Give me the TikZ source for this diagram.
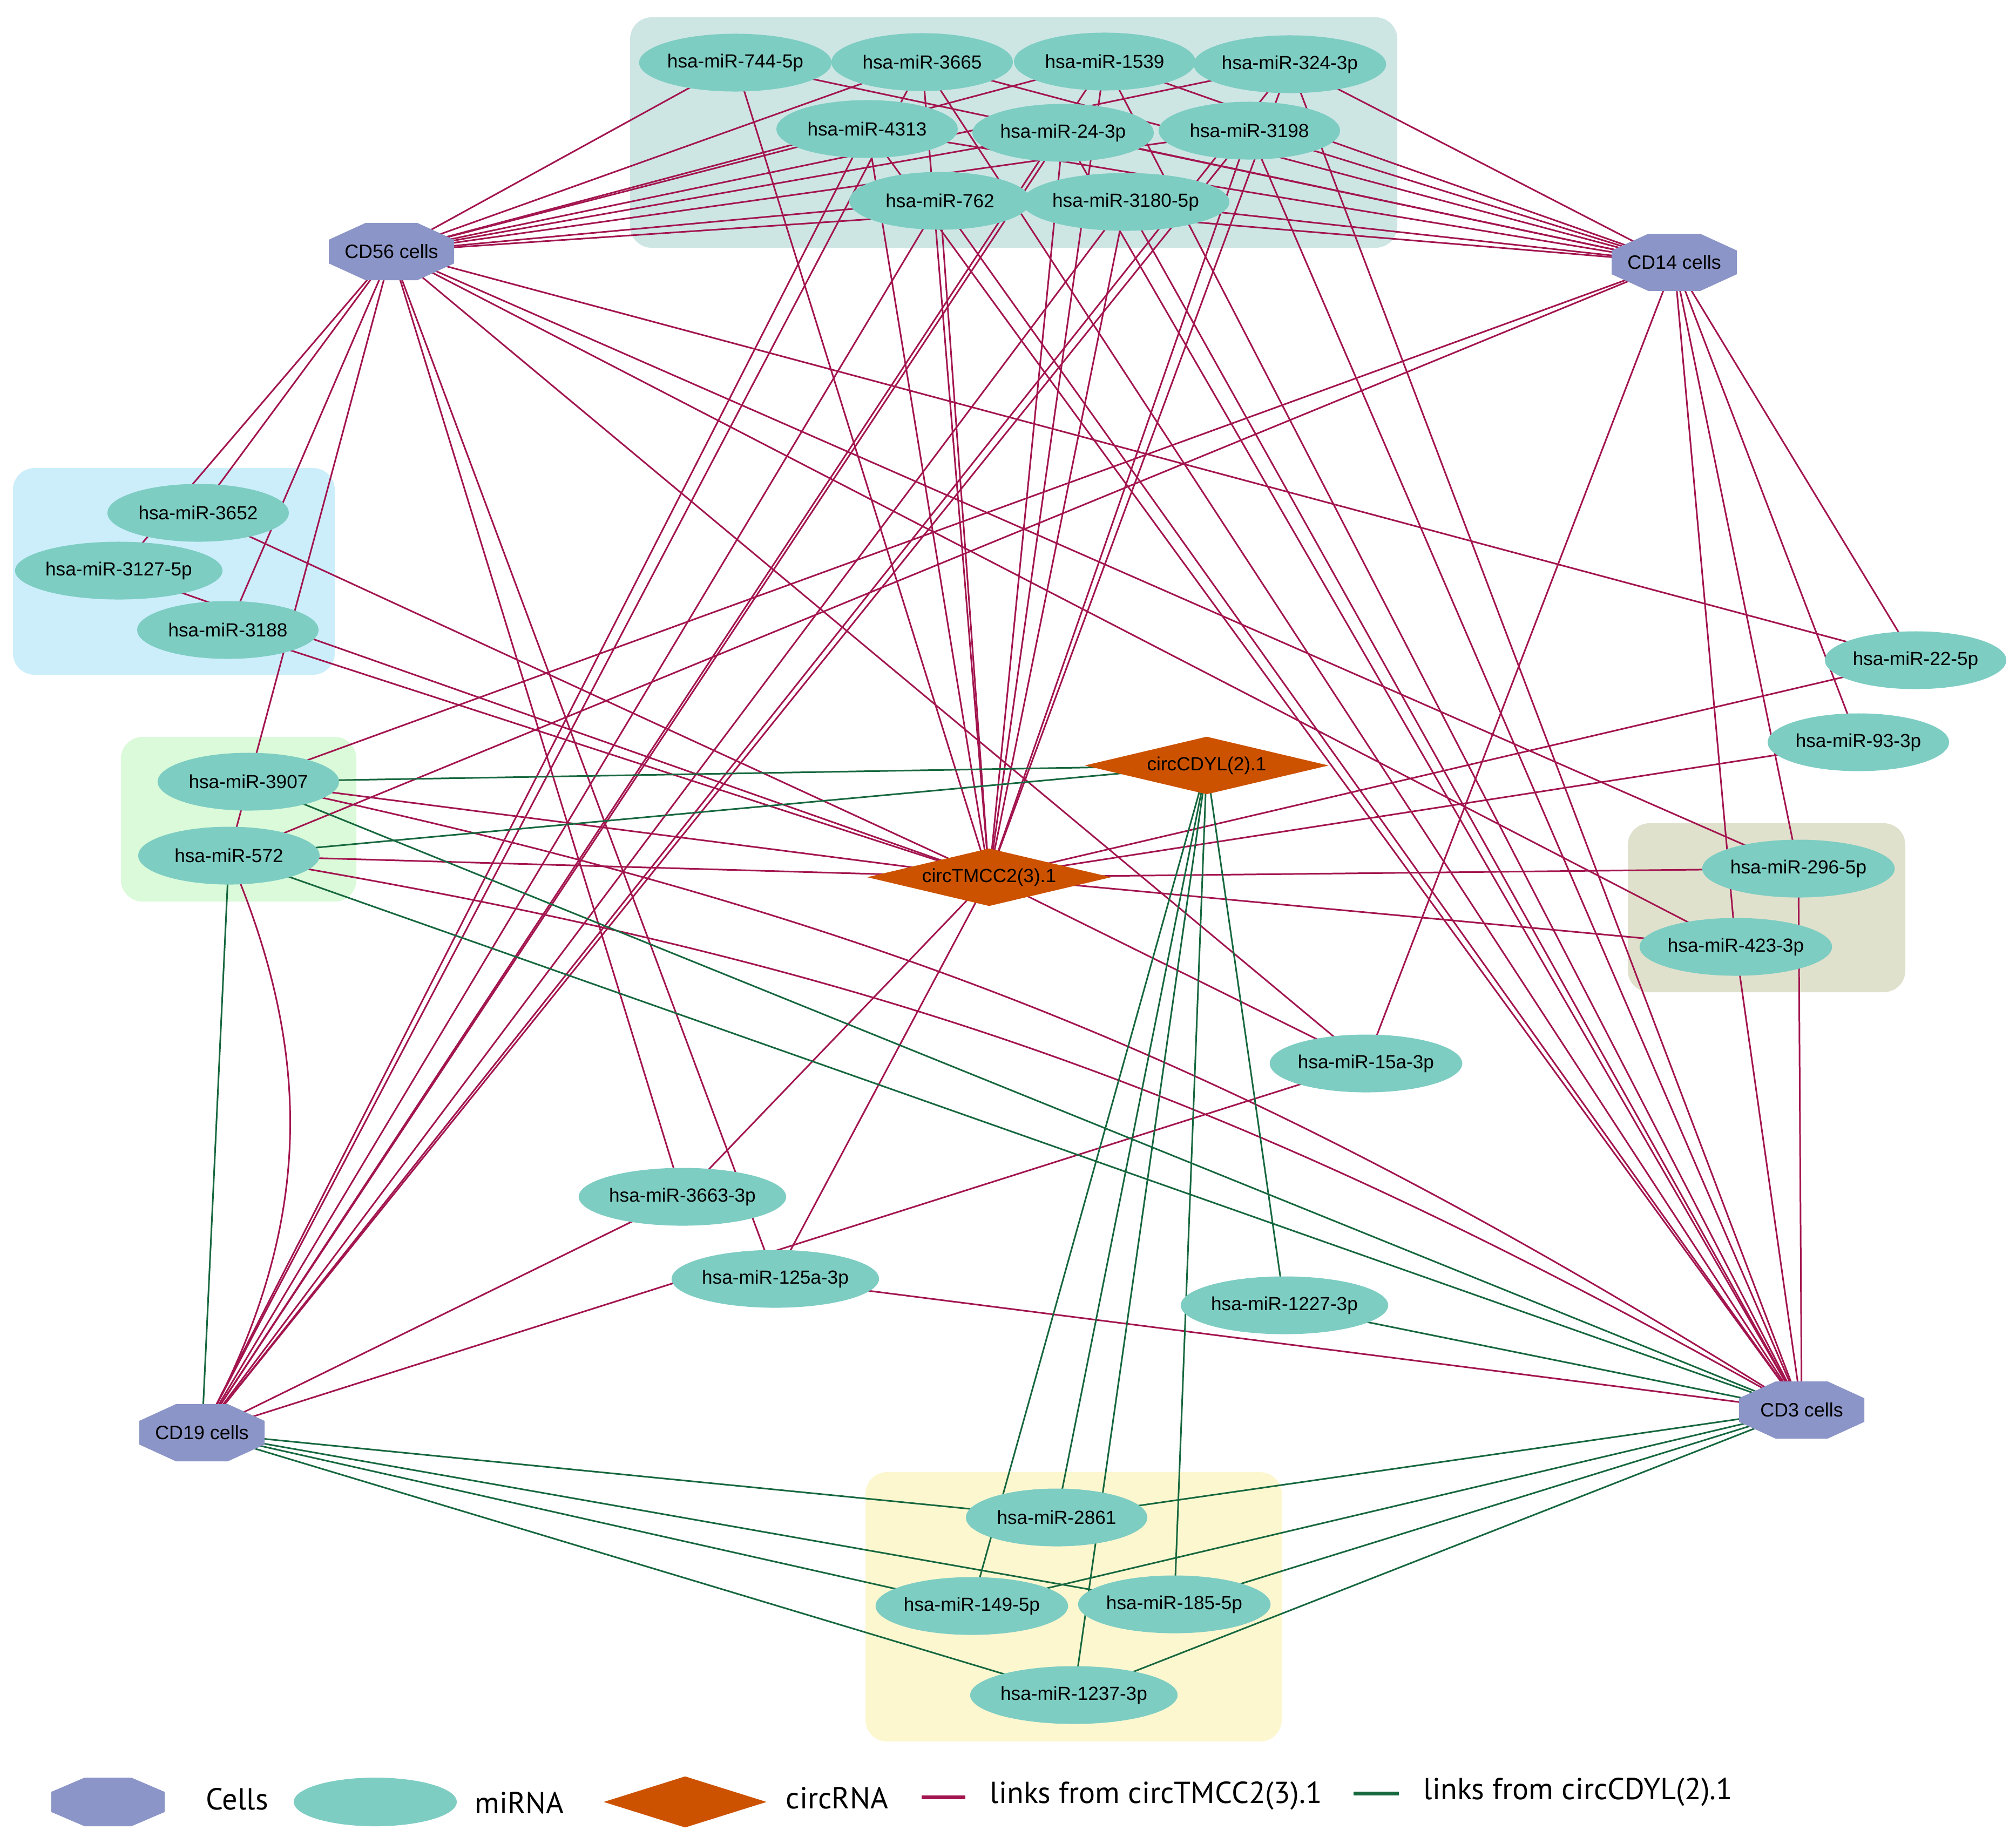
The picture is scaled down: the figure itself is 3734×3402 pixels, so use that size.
\documentclass[tikz,border=0pt]{standalone}
\usepackage{fontspec}
\setmainfont{Liberation Sans}
\newfontfamily\legendfont{PT Sans}
\usepackage{xcolor}
\definecolor{mirnaFill}{HTML}{7ECDC3}
\definecolor{cellFill}{HTML}{8C95C7}
\definecolor{circFill}{HTML}{CC5200}
\definecolor{tmccLink}{HTML}{A3154F}
\definecolor{cdylLink}{HTML}{17683F}
\definecolor{boxTeal}{HTML}{CDE6E4}
\definecolor{boxBlue}{HTML}{CCEEFB}
\definecolor{boxGreen}{HTML}{DAFAD9}
\definecolor{boxOlive}{HTML}{E0E1CC}
\definecolor{boxYellow}{HTML}{FDF7D0}
\usetikzlibrary{shapes.geometric}
\pgfdeclarelayer{boxes}
\pgfdeclarelayer{links}
\pgfsetlayers{boxes,links,main}
\tikzset{
    mirna/.style={
        fill=mirnaFill,
        ellipse,
        minimum width=3.36cm,
        minimum height=1.07cm,
        inner sep=0pt,
        font=\fontsize{10}{12}\selectfont
    },
    cell/.style={
        rectangle,
        minimum width=2.32cm,
        minimum height=1.06cm,
        inner sep=0pt,
        font=\fontsize{10.2}{12}\selectfont
    },
    circrna/.style={
        fill=circFill,
        diamond,
        aspect=4.2,
        minimum width=4.52cm,
        minimum height=1.07cm,
        inner sep=0pt,
        font=\fontsize{10}{12}\selectfont
    },
    tmcc/.style={
        line width=0.85pt,
        color=tmccLink
    },
    cdyl/.style={
        line width=0.85pt,
        color=cdylLink
    },
    group/.style={
        rounded corners=0.4cm
    },
    legendtext/.style={
        anchor=west,
        inner sep=0pt,
        font=\legendfont\fontsize{16}{19}\selectfont
    }
}
% flat octagon: centre, half width, half height
\newcommand{\octfill}[3]{%
    \fill[cellFill] (#1) ++({-0.414*#2},{-#3}) -- ++({0.828*#2},0)
        -- ++({0.586*#2},{0.586*#3}) -- ++(0,{0.828*#3})
        -- ++({-0.586*#2},{0.586*#3}) -- ++({-0.828*#2},0)
        -- ++({-0.586*#2},{-0.586*#3}) -- ++(0,{-0.828*#3}) -- cycle;
}
% cell node: name, position, text
\newcommand{\cellnode}[3]{%
    \octfill{#2}{116}{53}
    \node[cell] (#1) at (#2) {#3};
}

\begin{document}
\begin{tikzpicture}[x=0.01cm, y=-0.01cm]
    \useasboundingbox (0,0) rectangle (3734,3402);

    % Top miRNA group
    \node[mirna] (m744) at (1362,116) {hsa-miR-744-5p};
    \node[mirna] (m3665) at (1708,115) {hsa-miR-3665};
    \node[mirna] (m1539) at (2046,114) {hsa-miR-1539};
    \node[mirna] (m324) at (2389,119) {hsa-miR-324-3p};
    \node[mirna] (m4313) at (1606,239) {hsa-miR-4313};
    \node[mirna] (m24) at (1969,246) {hsa-miR-24-3p};
    \node[mirna] (m3198) at (2314,242) {hsa-miR-3198};
    \node[mirna] (m762) at (1741,372) {hsa-miR-762};
    \node[mirna] (m3180) at (2085,374) {hsa-miR-3180-5p};

    % Left groups
    \node[mirna] (m3652) at (367,950) {hsa-miR-3652};
    \node[mirna] (m3127) at (220,1057) {hsa-miR-3127-5p};
    \node[mirna] (m3188) at (422,1167) {hsa-miR-3188};
    \node[mirna] (m3907) at (460,1448) {hsa-miR-3907};
    \node[mirna] (m572) at (424,1585) {hsa-miR-572};

    % circRNAs
    \node[circrna] (tmcc) at (1832,1625) {circTMCC2(3).1};
    \node[circrna] (cdyl) at (2235,1418) {circCDYL(2).1};

    % Right side
    \node[mirna] (m22) at (3548,1223) {hsa-miR-22-5p};
    \node[mirna] (m93) at (3442,1375) {hsa-miR-93-3p};
    \node[mirna] (m296) at (3331,1609) {hsa-miR-296-5p};
    \node[mirna] (m423) at (3215,1754) {hsa-miR-423-3p};

    % Middle
    \node[mirna] (m15a) at (2530,1970) {hsa-miR-15a-3p};
    \node[mirna] (m3663) at (1264,2217) {hsa-miR-3663-3p};
    \node[mirna] (m125a) at (1436,2369) {hsa-miR-125a-3p};
    \node[mirna] (m1227) at (2379,2418) {hsa-miR-1227-3p};

    % Bottom group
    \node[mirna] (m2861) at (1957,2811) {hsa-miR-2861};
    \node[mirna] (m149) at (1800,2975) {hsa-miR-149-5p};
    \node[mirna] (m185) at (2175,2972) {hsa-miR-185-5p};
    \node[mirna] (m1237) at (1989,3140) {hsa-miR-1237-3p};

    % Cells
    \cellnode{cd56}{725,466}{CD56 cells}
    \cellnode{cd14}{3101,486}{CD14 cells}
    \cellnode{cd19}{374,2654}{CD19 cells}
    \cellnode{cd3}{3337,2612}{CD3 cells}

    % Links
    \begin{pgfonlayer}{links}
        \foreach \m in {m744,m3665,m1539,m324,m4313,m24,m3198,m762,m3180}
            \foreach \c in {cd56,cd14,tmcc}
                \draw[tmcc] (\m.center) -- (\c.center);
        \foreach \m in {m3665,m1539,m324,m4313,m24,m3198,m762,m3180}
            \foreach \c in {cd19,cd3}
                \draw[tmcc] (\m.center) -- (\c.center);
        \foreach \m/\c in {m3652/cd56,m3652/tmcc,m3127/cd56,m3127/tmcc,
                m3188/cd56,m3188/tmcc,m3907/cd14,m3907/tmcc,
                m572/cd56,m572/cd14,m572/tmcc,
                m22/cd56,m22/cd14,m22/tmcc,m93/cd14,m93/tmcc,
                m296/cd56,m296/cd14,m296/tmcc,m296/cd3,
                m423/cd56,m423/cd14,m423/tmcc,m423/cd3,
                m15a/cd56,m15a/cd14,m15a/tmcc,m15a/cd19,
                m3663/cd56,m3663/tmcc,m3663/cd19,
                m125a/cd56,m125a/tmcc,m125a/cd3}
            \draw[tmcc] (\m.center) -- (\c.center);
        \draw[tmcc] (m3907.center) to[bend left=10] (cd3.center);
        \draw[tmcc] (m572.center) to[bend left=10] (cd3.center);
        \draw[tmcc] (m572.center) to[bend left=26] (cd19.center);
        \foreach \m/\c in {m3907/cdyl,m3907/cd3,m572/cdyl,m572/cd3,m572/cd19,
                m1227/cdyl,m1227/cd3,
                m2861/cdyl,m2861/cd19,m2861/cd3,
                m149/cdyl,m149/cd19,m149/cd3,
                m185/cdyl,m185/cd19,m185/cd3,
                m1237/cdyl,m1237/cd19,m1237/cd3}
            \draw[cdyl] (\m.center) -- (\c.center);
    \end{pgfonlayer}

    % Group boxes
    \begin{pgfonlayer}{boxes}
        \fill[white] (0,0) rectangle (3734,3402);
        \fill[group, boxTeal] (1167,32) rectangle (2588,459);
        \fill[group, boxBlue] (24,867) rectangle (620,1250);
        \fill[group, boxGreen] (224,1365) rectangle (660,1670);
        \fill[group, boxOlive] (3015,1525) rectangle (3529,1838);
        \fill[group, boxYellow] (1603,2727) rectangle (2374,3226);
    \end{pgfonlayer}

    % Legend
    \octfill{200,3338}{105}{45}
    \node[legendtext] (keyCellText) at (381,3333) {Cells};
    \node[mirna, minimum width=3.02cm, minimum height=0.9cm] (keyMirna) at (695,3338) {};
    \node[legendtext] (keyMirnaText) at (879,3340) {miRNA};
    \node[circrna, aspect=3.2, minimum width=3.02cm, minimum height=0.95cm] (keyCirc) at (1269,3338) {};
    \node[legendtext] (keyCircText) at (1455,3331) {circRNA};
    \coordinate (keyTmccA) at (1707,3329);
    \coordinate (keyTmccB) at (1788,3329);
    \draw[tmcc, line width=2pt] (keyTmccA) -- (keyTmccB);
    \node[legendtext] (keyTmccText) at (1833,3327) {links from circTMCC2(3).1};
    \coordinate (keyCdylA) at (2507,3322);
    \coordinate (keyCdylB) at (2591,3322);
    \draw[cdyl, line width=2pt] (keyCdylA) -- (keyCdylB);
    \node[legendtext] (keyCdylText) at (2636,3320) {links from circCDYL(2).1};
\end{tikzpicture}
\end{document}
